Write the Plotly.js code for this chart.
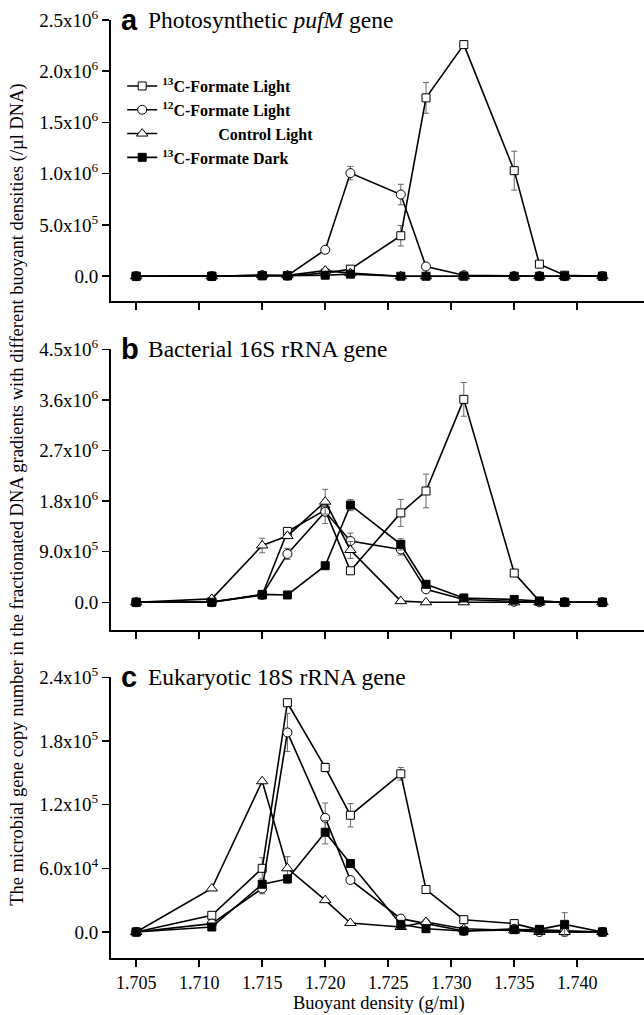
<!DOCTYPE html>
<html>
<head>
<meta charset="utf-8">
<script src="https://cdn.plot.ly/plotly-3.0.1.min.js"></script>
<style>html,body{margin:0;padding:0;background:#fff;}#chart{width:644px;height:1015px;}</style>
</head>
<body>
<div id="chart"></div>
<script>
// Buoyant density fractions (g/ml)
const density = [1.705, 1.711, 1.715, 1.717, 1.720, 1.722, 1.726, 1.728, 1.731, 1.735, 1.737, 1.739, 1.742];

const seriesNames = ["<sup>13</sup>C-Formate Light", "<sup>12</sup>C-Formate Light",
  "\u00A0\u00A0\u00A0\u00A0\u00A0\u00A0\u00A0\u00A0\u00A0\u00A0\u00A0\u00A0\u00A0\u00A0Control Light", "<sup>13</sup>C-Formate Dark"];

// Panel a: Photosynthetic pufM gene
const a13Light = [0, 0, 5e3, 5e3, 3e4, 6.9e4, 3.95e5, 1.74e6, 2.26e6, 1.03e6, 1.18e5, 1e4, 0];
const a13LightErr = [0, 0, 0, 0, 0, 0, 1e5, 1.5e5, 1.5e4, 1.9e5, 2e4, 0, 0];
const a12Light = [0, 0, 1e4, 5e3, 2.58e5, 1.006e6, 7.97e5, 9.5e4, 1e4, 0, 0, 0, 0];
const a12LightErr = [0, 0, 0, 0, 3e4, 6.5e4, 1e5, 1e4, 0, 0, 0, 0, 0];
const aControl = [0, 0, 1e4, 1e4, 5.5e4, 3e4, 0, 0, 0, 0, 0, 0, 0];
const aControlErr = [0, 0, 0, 0, 0, 0, 0, 0, 0, 0, 0, 0, 0];
const a13Dark = [0, 0, 5e3, 5e3, 1e4, 2e4, 0, 0, 0, 0, 0, 0, 0];
const a13DarkErr = [0, 0, 0, 0, 0, 0, 0, 0, 0, 0, 0, 0, 0];

// Panel b: Bacterial 16S rRNA gene
const b13Light = [0, 1e4, 1.3e5, 1.26e6, 1.64e6, 5.6e5, 1.59e6, 1.98e6, 3.61e6, 5.2e5, 2e4, 0, 0];
const b13LightErr = [0, 0, 0, 5e4, 1e5, 5e4, 2.4e5, 3e5, 3e5, 3e4, 0, 0, 0];
const b12Light = [0, 0, 1.3e5, 8.6e5, 1.61e6, 1.09e6, 9.4e5, 2.3e5, 5e4, 1e4, 0, 0, 0];
const b12LightErr = [0, 0, 0, 1e5, 2.1e5, 1.4e5, 1e5, 3e4, 0, 0, 0, 0, 0];
const bControl = [0, 6e4, 1.01e6, 1.18e6, 1.79e6, 9.3e5, 2e4, 0, 0, 0, 0, 0, 0];
const bControlErr = [0, 0, 1.3e5, 5e4, 2.2e5, 1.5e5, 0, 0, 0, 0, 0, 0, 0];
const b13Dark = [0, 0, 1.4e5, 1.3e5, 6.5e5, 1.73e6, 1.03e6, 3.2e5, 7.7e4, 5e4, 2e4, 0, 0];
const b13DarkErr = [0, 0, 0, 0, 0, 1e5, 1e5, 0, 0, 0, 0, 0, 0];

// Panel c: Eukaryotic 18S rRNA gene
const c13Light = [0, 1.57e4, 6.0e4, 2.16e5, 1.55e5, 1.10e5, 1.49e5, 4.0e4, 1.16e4, 7.9e3, 2e3, 1e3, 0];
const c13LightErr = [0, 2e3, 1e4, 3e3, 4e3, 1.1e4, 6e3, 3e3, 0, 1e3, 0, 0, 0];
const c12Light = [0, 7.9e3, 4.1e4, 1.88e5, 1.075e5, 4.9e4, 1.26e4, 7.9e3, 1e3, 3e3, 0, 0, 0];
const c12LightErr = [0, 0, 5e3, 1.8e4, 1.4e4, 0, 0, 0, 0, 0, 0, 0, 0];
const cControl = [0, 4.1e4, 1.42e5, 6.0e4, 3.0e4, 8.5e3, 4.7e3, 9.4e3, 3e3, 1.5e3, 0, 0, 0];
const cControlErr = [0, 0, 0, 1.1e4, 0, 0, 0, 0, 0, 0, 0, 0, 0];
const c13Dark = [0, 4.7e3, 4.5e4, 5.0e4, 9.4e4, 6.45e4, 7.2e3, 3.1e3, 1e3, 2.2e3, 2.5e3, 7.2e3, 0];
const c13DarkErr = [0, 0, 0, 4e3, 1.1e4, 0, 0, 0, 0, 0, 0, 1.1e4, 0];

// Tick labels
const xTickVals = [1.705, 1.710, 1.715, 1.720, 1.725, 1.730, 1.735, 1.740];
const xTickText = ["1.705", "1.710", "1.715", "1.720", "1.725", "1.730", "1.735", "1.740"];
const aTickVals = [0, 5e5, 1e6, 1.5e6, 2e6, 2.5e6];
const aTickText = ["0.0", "5.0x10<sup>5</sup>", "1.0x10<sup>6</sup>", "1.5x10<sup>6</sup>", "2.0x10<sup>6</sup>", "2.5x10<sup>6</sup>"];
const bTickVals = [0, 9e5, 1.8e6, 2.7e6, 3.6e6, 4.5e6];
const bTickText = ["0.0", "9.0x10<sup>5</sup>", "1.8x10<sup>6</sup>", "2.7x10<sup>6</sup>", "3.6x10<sup>6</sup>", "4.5x10<sup>6</sup>"];
const cTickVals = [0, 6e4, 1.2e5, 1.8e5, 2.4e5];
const cTickText = ["0.0", "6.0x10<sup>4</sup>", "1.2x10<sup>5</sup>", "1.8x10<sup>5</sup>", "2.4x10<sup>5</sup>"];

const panelTitles = ["Photosynthetic <i>pufM</i> gene", "Bacterial 16S rRNA gene", "Eukaryotic 18S rRNA gene"];
const panelLetters = ["a", "b", "c"];

const styles = [
  {symbol: "square", size: 8, color: "#ffffff"},
  {symbol: "circle", size: 9, color: "#ffffff"},
  {symbol: "triangle-up", size: 10, color: "#ffffff"},
  {symbol: "square", size: 8, color: "#000000"}
];

const panels = [
  {xa: "x", ya: "y", data: [[a13Light, a13LightErr], [a12Light, a12LightErr], [aControl, aControlErr], [a13Dark, a13DarkErr]]},
  {xa: "x2", ya: "y2", data: [[b13Light, b13LightErr], [b12Light, b12LightErr], [bControl, bControlErr], [b13Dark, b13DarkErr]]},
  {xa: "x3", ya: "y3", data: [[c13Light, c13LightErr], [c12Light, c12LightErr], [cControl, cControlErr], [c13Dark, c13DarkErr]]}
];

const traces = [];
panels.forEach((p, pi) => {
  p.data.forEach((d, si) => {
    const st = styles[si];
    traces.push({
      type: "scatter", mode: "lines+markers",
      x: density, y: d[0],
      xaxis: p.xa, yaxis: p.ya,
      name: seriesNames[si],
      legendgroup: "s" + si,
      showlegend: pi === 0,
      line: {color: "#000", width: 1.6},
      marker: {symbol: st.symbol, size: st.size, color: st.color, line: {color: "#000", width: 1}},
      error_y: {type: "data", array: d[1], visible: true, color: "#666", thickness: 1, width: 3},
      cliponaxis: false
    });
  });
});

const serif = "'Liberation Serif', 'Times New Roman', serif";
const tickFontY = {family: serif, size: 19, color: "#000"};
const tickFontX = {family: serif, size: 18, color: "#000"};

function xAxis(anchor, showLabels) {
  return {
    anchor: anchor, range: [1.703, 1.7453], tickvals: xTickVals, ticktext: xTickText,
    showticklabels: showLabels, ticks: "outside", ticklen: 7, tickwidth: 1.5, tickcolor: "#000",
    showline: true, linecolor: "#000", linewidth: 2, showgrid: false, zeroline: false,
    tickfont: tickFontX
  };
}
function yAxis(anchor, domain, range, vals, text) {
  return {
    anchor: anchor, domain: domain, range: range, tickvals: vals, ticktext: text,
    ticks: "outside", ticklen: 7, tickwidth: 1.5, tickcolor: "#000",
    showline: true, linecolor: "#000", linewidth: 2, showgrid: false, zeroline: false,
    tickfont: tickFontY
  };
}

const annotations = [];
const yrefs = ["y domain", "y2 domain", "y3 domain"];
for (let i = 0; i < 3; i++) {
  annotations.push({
    xref: "paper", yref: yrefs[i], x: 0.015, y: 1, xanchor: "left", yanchor: "middle",
    text: "<b>" + panelLetters[i] + "</b>", showarrow: false,
    font: {family: "'Liberation Sans', Arial, sans-serif", size: 29, color: "#000"}
  });
  annotations.push({
    xref: "paper", yref: yrefs[i], x: 0.066, y: 1, xanchor: "left", yanchor: "middle",
    text: panelTitles[i], showarrow: false,
    font: {family: serif, size: 23.5, color: "#000"}
  });
}
annotations.push({
  xref: "paper", yref: "paper", x: 0.503, y: -0.049, xanchor: "center", yanchor: "middle",
  text: "Buoyant density (g/ml)", showarrow: false, font: {family: serif, size: 18.5, color: "#000"}
});
annotations.push({
  xref: "paper", yref: "paper", x: -0.176, y: 0.494, xanchor: "center", yanchor: "middle",
  textangle: -90,
  text: "The microbial gene copy number in the fractionated DNA gradients with different buoyant densities (/\u00B5l DNA)",
  showarrow: false, font: {family: serif, size: 18.5, color: "#000"}
});

const layout = {
  width: 644, height: 1015,
  margin: {l: 111, r: 0, t: 20, b: 57},
  paper_bgcolor: "#fff", plot_bgcolor: "#fff",
  showlegend: true,
  legend: {
    x: 0.021, y: 0.9477, xanchor: "left", yanchor: "top",
    bgcolor: "rgba(0,0,0,0)", borderwidth: 0,
    font: {family: serif, size: 16, color: "#000", weight: "bold"},
    tracegroupgap: 0
  },
  xaxis: xAxis("y", false),
  xaxis2: xAxis("y2", false),
  xaxis3: xAxis("y3", true),
  yaxis: yAxis("x", [0.7004, 1.0], [-2.42e5, 2.5e6], aTickVals, aTickText),
  yaxis2: yAxis("x2", [0.3497, 0.6489], [-4.93e5, 4.5e6], bTickVals, bTickText),
  yaxis3: yAxis("x3", [0.0, 0.2993], [-2.45e4, 2.4e5], cTickVals, cTickText),
  annotations: annotations
};

Plotly.newPlot("chart", traces, layout, {displayModeBar: false, staticPlot: true});
</script>
</body>
</html>
